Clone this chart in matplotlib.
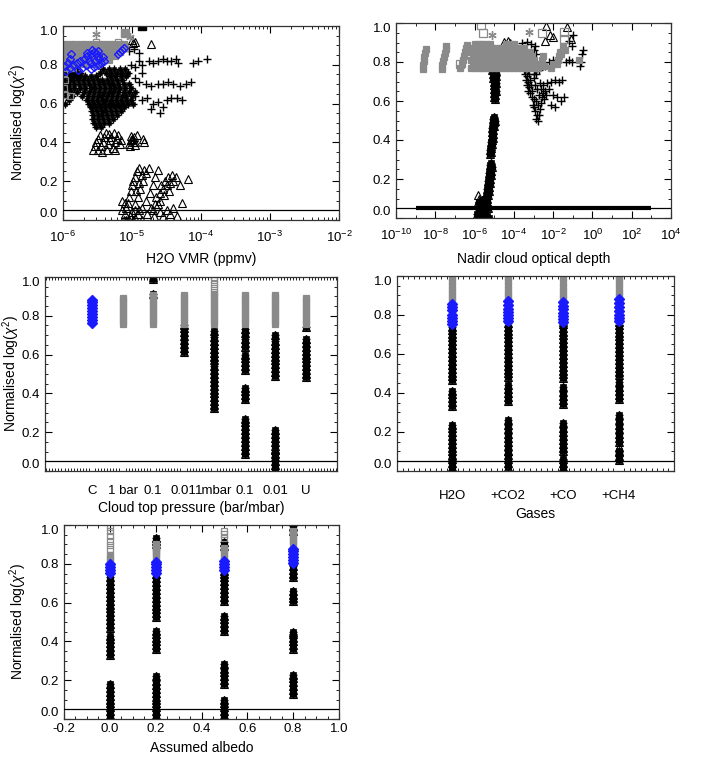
import numpy as np
import matplotlib
matplotlib.use('Agg')
import matplotlib.pyplot as plt
from matplotlib.ticker import MultipleLocator, FixedLocator, NullFormatter, LogFormatterMathtext, LogLocator

plt.rcParams['font.family'] = ['Liberation Sans', 'DejaVu Sans']
plt.rcParams['mathtext.fontset'] = 'custom'
plt.rcParams['mathtext.rm'] = 'Liberation Sans'
plt.rcParams['mathtext.it'] = 'Liberation Sans:italic'
plt.rcParams['font.size'] = 10

GREY = '#8a8a8a'
BLUE = '#1a1aff'
THRESH = 0.05
YLAB = r'Normalised log($\chi^2$)'

# ---------------- panel 1 : H2O VMR (log10 ppmv) ----------------
p1_grey_y = [0.905, 0.885, 0.865, 0.845, 0.825, 0.805, 0.785]
p1_grey_lx = [
    [-5.98, -5.9, -5.82, -5.74, -5.66, -5.58, -5.5, -5.42, -5.34, -5.26, -5.18, -5.12],
    [-5.96, -5.88, -5.8, -5.72, -5.64, -5.56, -5.48, -5.4, -5.32, -5.24, -5.16, -5.1],
    [-5.98, -5.9, -5.82, -5.74, -5.66, -5.58, -5.5, -5.42, -5.34, -5.26, -5.18],
    [-5.96, -5.88, -5.8, -5.72, -5.64, -5.56, -5.48, -5.4, -5.32, -5.24],
    [-5.98, -5.9, -5.82, -5.74, -5.66, -5.58, -5.5, -5.42, -5.34],
    [-5.96, -5.88, -5.8, -5.72, -5.64, -5.56, -5.48],
    [-5.98, -5.92, -5.86],
]
p1_grey_x_extra = [-5.98, -5.97, -5.98, -5.97, -5.9, -5.52, -5.2]
p1_grey_y_extra = [0.76, 0.72, 0.68, 0.645, 0.64, 0.915, 0.915]

p1_blue_lx = [-5.95, -5.9, -5.85, -5.8, -5.75, -5.7, -5.65, -5.6, -5.55, -5.5,
              -5.78, -5.72, -5.66, -5.6, -5.54, -5.48, -5.42,
              -5.97, -5.93, -5.9, -5.6, -5.55, -5.5, -5.45, -5.4,
              -5.65, -5.58, -5.52, -5.5, -5.62, -5.88,
              -5.2, -5.17, -5.14, -5.12]
p1_blue_y = [0.77, 0.785, 0.80, 0.81, 0.82, 0.83, 0.845, 0.855, 0.865, 0.87,
             0.775, 0.785, 0.80, 0.81, 0.82, 0.83, 0.84,
             0.795, 0.81, 0.83, 0.78, 0.79, 0.80, 0.81, 0.82,
             0.86, 0.875, 0.86, 0.845, 0.82, 0.855,
             0.855, 0.865, 0.875, 0.885]

p1_mass_y = [0.78, 0.76, 0.74, 0.72, 0.70, 0.68, 0.66, 0.64, 0.62, 0.60,
             0.58, 0.56, 0.54, 0.52, 0.50, 0.48]
p1_mass_lx = [
    [-5.99, -5.93, -5.87, -5.81, -5.42, -5.34, -5.26, -5.18, -5.1],
    [-5.99, -5.93, -5.87, -5.81, -5.75, -5.47, -5.38, -5.3, -5.22, -5.14, -5.06],
    [-5.99, -5.93, -5.87, -5.81, -5.75, -5.68, -5.6, -5.52, -5.32, -5.24, -5.16, -5.08],
    [-5.98, -5.92, -5.85, -5.78, -5.71, -5.64, -5.57, -5.5, -5.43, -5.36, -5.29, -5.22, -5.15],
    [-5.97, -5.91, -5.84, -5.77, -5.7, -5.62, -5.55, -5.48, -5.41, -5.34, -5.27, -5.2, -5.12, -5.04],
    [-5.98, -5.91, -5.84, -5.76, -5.68, -5.6, -5.53, -5.46, -5.39, -5.32, -5.25, -5.18, -5.1, -5.02],
    [-5.96, -5.88, -5.8, -5.7, -5.62, -5.55, -5.48, -5.41, -5.34, -5.27, -5.2, -5.12, -5.04, -4.96],
    [-5.95, -5.87, -5.72, -5.64, -5.57, -5.5, -5.43, -5.36, -5.29, -5.22, -5.15, -5.08, -5.0],
    [-5.92, -5.65, -5.58, -5.51, -5.44, -5.37, -5.3, -5.23, -5.16, -5.09, -5.02],
    [-5.97, -5.62, -5.55, -5.48, -5.41, -5.34, -5.27, -5.2, -5.13, -5.06, -4.98],
    [-5.6, -5.53, -5.46, -5.39, -5.32, -5.25, -5.18, -5.11],
    [-5.58, -5.51, -5.44, -5.37, -5.3, -5.23, -5.16],
    [-5.57, -5.5, -5.43, -5.36, -5.29, -5.22],
    [-5.56, -5.49, -5.42, -5.35, -5.28],
    [-5.55, -5.48, -5.41, -5.34],
    [-5.52, -5.45],
]
p1_plus_lx = [-5.02, -4.95, -4.9, -4.85, -4.75, -4.7, -4.62, -4.55, -4.5, -4.43, -4.36,
              -4.33, -4.12, -4.05, -3.92, -4.85, -4.9, -4.95, -4.97, -5.05,
              -4.9, -4.8, -4.72, -4.63, -4.55, -4.48, -4.4, -4.3, -4.22, -4.14,
              -4.95, -4.85, -4.78, -4.7, -4.62, -4.55, -4.5, -4.43, -4.35, -4.28, -4.6, -4.72]
p1_plus_y = [0.80, 0.79, 0.82, 0.80, 0.82, 0.81, 0.82, 0.83, 0.82, 0.82, 0.83,
             0.81, 0.81, 0.82, 0.83, 0.76, 0.86, 0.73, 0.88, 0.87,
             0.71, 0.70, 0.69, 0.70, 0.70, 0.71, 0.70, 0.69, 0.70, 0.71,
             0.64, 0.62, 0.63, 0.60, 0.61, 0.58, 0.62, 0.63, 0.63, 0.62, 0.55, 0.57]
p1_tri_lx = [-5.56, -5.54, -5.52, -5.5, -5.45, -5.42, -5.4, -5.38, -5.35, -5.32, -5.3,
             -5.28, -5.25, -5.22, -5.2, -5.18, -5.05, -5.02, -5.0, -4.97, -4.95, -4.93,
             -4.84, -4.83,
             -5.5, -5.47, -5.44, -5.36, -5.33, -5.26, -5.24, -5.16, -5.03, -4.99, -4.96, -5.01,
             -5.12, -5.1, -5.08, -5.06, -5.04, -5.02, -5.0, -4.98, -4.96, -4.93, -4.9,
             -5.05, -5.0, -4.96, -4.92, -4.88, -4.84, -4.8, -4.76,
             -4.98, -4.92, -4.86, -4.8, -4.74, -4.7, -4.66, -4.62,
             -4.85, -4.78, -4.7, -4.62, -4.55, -4.5, -4.45, -4.4, -4.35,
             -4.65, -4.6, -4.55, -4.5, -4.45, -4.4, -4.36, -4.6, -4.53, -4.46,
             -5.08, -5.03, -4.95, -4.9, -4.94, -4.9, -4.86, -4.82, -4.72, -4.68, -4.6,
             -4.66, -4.58, -4.52, -4.48, -4.42, -4.95, -5.1,
             -4.3, -4.19, -4.28, -5.15, -5.14,
             -5.0, -4.98, -4.95, -4.72]
p1_tri_y = [0.36, 0.38, 0.40, 0.42, 0.38, 0.40, 0.43, 0.45, 0.39, 0.41, 0.43,
            0.37, 0.40, 0.42, 0.44, 0.39, 0.39, 0.41, 0.42, 0.43, 0.40, 0.44,
            0.42, 0.40,
            0.36, 0.44, 0.35, 0.36, 0.445, 0.45, 0.36, 0.41, 0.38, 0.40, 0.385, 0.435,
            0.0, 0.03, 0.06, 0.09, 0.12, 0.15, 0.18, 0.20, 0.22, 0.25, 0.27,
            0.0, 0.04, 0.08, 0.12, 0.16, 0.20, 0.24, 0.27,
            0.0, 0.03, 0.06, 0.10, 0.14, 0.18, 0.22, 0.26,
            0.0, 0.03, 0.05, 0.08, 0.02, 0.05, 0.03, 0.06, 0.02,
            0.12, 0.14, 0.16, 0.18, 0.19, 0.20, 0.22, 0.10, 0.13, 0.15,
            0.0, 0.02, 0.01, 0.05, 0.15, 0.19, 0.23, 0.26, 0.06, 0.02, 0.04,
            0.08, 0.18, 0.20, 0.22, 0.23, 0.05, 0.09,
            0.18, 0.21, 0.09, 0.05, 0.10,
            0.93, 0.91, 0.92, 0.905]

# ---------------- panel 2 : nadir cloud optical depth (log10) ----------------
p2_col_lx = [-8.65, -8.62, -8.58, -8.55, -8.5, -8.47,
             -7.68, -7.64, -7.6, -7.56, -7.52, -7.48, -7.45,
             -6.72, -6.66, -6.6, -6.55, -6.5, -6.45, -6.4]
p2_col_y = [0.765, 0.785, 0.805, 0.825, 0.845, 0.865,
            0.765, 0.785, 0.805, 0.825, 0.845, 0.865, 0.88,
            0.77, 0.79, 0.81, 0.83, 0.85, 0.87, 0.885]
p2_grey_y = [0.77, 0.79, 0.81, 0.83, 0.85, 0.87, 0.89]
p2_grey_lx = [
    [-6.2, -6.0, -5.8, -5.6, -5.4, -5.2, -5.0, -4.8, -4.6, -4.4, -4.2, -4.0, -3.8, -3.6, -3.4, -3.2, -3.0, -2.8],
    [-6.1, -5.9, -5.7, -5.5, -5.3, -5.1, -4.9, -4.7, -4.5, -4.3, -4.1, -3.9, -3.7, -3.5, -3.3, -3.1, -2.9],
    [-6.2, -6.0, -5.8, -5.6, -5.4, -5.2, -5.0, -4.8, -4.6, -4.4, -4.2, -4.0, -3.8, -3.6, -3.4, -3.2, -3.0],
    [-6.1, -5.9, -5.7, -5.5, -5.3, -5.1, -4.9, -4.7, -4.5, -4.3, -4.1, -3.9, -3.7, -3.5, -3.3, -3.1],
    [-6.2, -6.0, -5.8, -5.6, -5.4, -5.2, -5.0, -4.8, -4.6, -4.4, -4.2, -4.0, -3.8, -3.6, -3.4, -3.2],
    [-6.1, -5.9, -5.7, -5.5, -5.3, -5.1, -4.9, -4.7, -4.5, -4.3, -4.1, -3.9, -3.7, -3.5],
    [-6.0, -5.8, -5.6, -5.4, -5.2, -4.4, -4.2, -4.0],
]
p2_grey_x_extra = [-2.75, -2.65, -2.55, -2.45, -2.5, -1.8, -1.75, -1.7, -1.65, -1.6,
                   -2.1, -2.0, -1.5, -1.4, -0.7]
p2_grey_y_extra = [0.77, 0.79, 0.81, 0.78, 0.83, 0.79, 0.81, 0.83, 0.85, 0.84,
                   0.77, 0.79, 0.88, 0.86, 0.81]
p2_grey_out_lx = [-5.56, -5.65, -2.58, -1.47, -1.47, -6.73]
p2_grey_out_y = [0.95, 0.99, 0.95, 0.955, 0.92, 0.79]
p2_star_lx = [-5.12, -3.21]
p2_star_y = [0.94, 0.955]

p2_colblk_lx = [-5.1, -5.0, -4.92, -5.08, -4.98, -4.9, -5.05, -4.95, -5.0, -4.92, -5.03, -4.95,
                -5.0, -4.93, -5.02, -4.96, -5.0, -4.95,
                -5.0, -5.05, -4.98, -5.02, -5.07, -5.0, -5.1, -5.05, -5.12, -5.08, -5.1, -5.05,
                -5.12, -5.15, -5.1, -5.18, -5.15, -5.2, -5.15, -5.2,
                -5.15, -5.2, -5.1, -5.22, -5.15, -5.25, -5.18, -5.28, -5.2, -5.3, -5.22, -5.32,
                -5.25, -5.35, -5.28, -5.38, -5.3, -5.4, -5.35,
                -5.85, -5.75, -5.65, -5.55, -5.45, -5.35, -5.25, -5.8, -5.7, -5.6, -5.5, -5.4,
                -5.3, -5.75, -5.6, -5.45, -5.9, -5.35]
p2_colblk_y = [0.76, 0.76, 0.755, 0.74, 0.74, 0.73, 0.72, 0.71, 0.70, 0.69, 0.68, 0.67,
               0.66, 0.65, 0.64, 0.63, 0.62, 0.61,
               0.52, 0.51, 0.50, 0.49, 0.48, 0.47, 0.46, 0.45, 0.44, 0.43, 0.42, 0.41,
               0.40, 0.39, 0.38, 0.37, 0.36, 0.35, 0.34, 0.33,
               0.28, 0.27, 0.26, 0.25, 0.24, 0.23, 0.22, 0.21, 0.20, 0.19, 0.18, 0.17,
               0.16, 0.15, 0.14, 0.13, 0.12, 0.11, 0.10,
               0.0, 0.01, 0.02, 0.0, 0.03, 0.01, 0.0, 0.04, 0.06, 0.05, 0.07, 0.06,
               0.05, 0.08, 0.09, 0.10, 0.02, 0.08]
p2_plus_lx = [-3.5, -3.4, -3.3, -3.45, -3.35, -3.25, -3.4, -3.3, -3.2, -3.35, -3.25, -3.15,
              -3.3, -3.2, -3.1, -3.0, -2.9, -2.8, -2.7, -2.95, -2.85,
              -3.1, -3.0, -3.05, -2.95, -2.85, -2.9, -2.8, -2.85, -2.75, -2.7, -2.65, -2.75,
              -2.6, -2.55, -2.7, -2.5, -2.6, -2.4, -2.45, -2.35, -2.8, -2.9, -2.65, -2.5,
              -2.3, -2.1, -1.9, -1.7, -1.55, -2.2, -2.0, -1.8, -1.6, -1.45, -2.1, -1.9,
              -2.4, -2.2, -2.0, -1.35, -1.2, -1.05, -0.65, -0.6, -0.5, -0.55, -1.2, -1.05,
              -3.6, -3.35, -3.15, -0.98, -3.0, -2.9, -2.85]
p2_plus_y = [0.76, 0.77, 0.76, 0.74, 0.73, 0.74, 0.71, 0.70, 0.71, 0.68, 0.67, 0.68,
             0.65, 0.64, 0.65, 0.74, 0.76, 0.77, 0.76, 0.72, 0.74,
             0.62, 0.61, 0.58, 0.57, 0.60, 0.55, 0.53, 0.51, 0.50, 0.53, 0.56, 0.58,
             0.59, 0.62, 0.63, 0.64, 0.66, 0.65, 0.61, 0.63, 0.66, 0.68, 0.69, 0.68,
             0.69, 0.70, 0.71, 0.70, 0.71, 0.66, 0.63, 0.62, 0.60, 0.62, 0.58, 0.57,
             0.78, 0.80, 0.81, 0.80, 0.81, 0.80, 0.78, 0.80, 0.86, 0.84, 0.91, 0.88,
             0.90, 0.905, 0.89, 0.94, 0.86, 0.88, 0.84]
p2_tri_lx = [-4.5, -4.3, -4.2, -2.4, -2.15, -2.0, -5.85, -5.75, -5.9, -2.35, -1.27, -1.1]
p2_tri_y = [0.905, 0.91, 0.90, 0.91, 0.94, 0.93, 0.12, 0.10, 0.07, 0.985, 0.98, 0.92]

# ---------------- panel 3 : cloud top pressure ----------------
cloud_labels = ['C', '1 bar', '0.1', '0.01', '1mbar', '0.1', '0.01', 'U']
cloud_blue_y = [[0.765, 0.78, 0.795, 0.81, 0.825, 0.84, 0.855, 0.87, 0.88],
                [], [], [], [], [], [], []]
cloud_grey_y = [
    [],
    [0.76, 0.775, 0.79, 0.805, 0.82, 0.835, 0.85, 0.865, 0.88, 0.89],
    [0.76, 0.775, 0.79, 0.805, 0.82, 0.835, 0.85, 0.865, 0.88, 0.895, 0.905],
    [0.76, 0.775, 0.79, 0.805, 0.82, 0.835, 0.85, 0.865, 0.88, 0.895, 0.905],
    [0.76, 0.775, 0.79, 0.805, 0.82, 0.835, 0.85, 0.865, 0.88, 0.895, 0.91],
    [0.76, 0.775, 0.79, 0.805, 0.82, 0.835, 0.85, 0.865, 0.88, 0.895, 0.905],
    [0.76, 0.775, 0.79, 0.805, 0.82, 0.835, 0.85, 0.865, 0.88, 0.895, 0.905],
    [0.76, 0.775, 0.79, 0.805, 0.82, 0.835, 0.85, 0.865, 0.88, 0.89],
]
cloud_open_y = [[], [], [], [], [0.925, 0.945, 0.965, 0.985, 1.0], [], [], []]
cloud_black_y = [
    [],
    [],
    [0.91, 0.99, 1.0],
    [0.615, 0.635, 0.655, 0.675, 0.695, 0.715, 0.735, 0.755],
    [0.72, 0.69, 0.67, 0.65, 0.63, 0.61, 0.59, 0.57,
     0.54, 0.52, 0.50, 0.48, 0.46, 0.44, 0.42, 0.40, 0.38, 0.36, 0.34, 0.325],
    [0.73, 0.71, 0.68, 0.66, 0.64, 0.60, 0.58, 0.56, 0.54, 0.52,
     0.43, 0.41, 0.39, 0.37,
     0.27, 0.25, 0.23, 0.21, 0.19, 0.17, 0.15, 0.13, 0.11, 0.09],
    [0.70, 0.67, 0.65, 0.63, 0.61, 0.59, 0.57, 0.55, 0.53, 0.51, 0.49,
     0.21, 0.19, 0.17, 0.15, 0.13,
     0.09, 0.07, 0.05, 0.03, 0.01],
    [0.74, 0.68, 0.66, 0.64, 0.62, 0.60, 0.58, 0.56, 0.54, 0.52, 0.50, 0.485],
]
cloud_tri_y = [[], [], [], [], [], [], [0.11, 0.115], []]

# ---------------- panel 4 : gases ----------------
gas_labels = ['H2O', '+CO2', '+CO', '+CH4']
gas_grey_y = [
    [0.77, 0.79, 0.81, 0.83, 0.85, 0.87, 0.89, 0.91, 0.93, 0.95, 0.97, 0.995],
    [0.77, 0.79, 0.81, 0.83, 0.85, 0.875, 0.895, 0.915, 0.935, 0.955, 0.975, 0.995],
    [0.77, 0.79, 0.81, 0.83, 0.85, 0.865, 0.885, 0.905, 0.925, 0.945, 0.97, 0.995],
    [0.77, 0.79, 0.81, 0.83, 0.85, 0.88, 0.90, 0.92, 0.94, 0.96, 0.98, 0.995],
]
gas_blue_y = [
    [0.825, 0.84, 0.855, 0.755, 0.77, 0.785, 0.80],
    [0.83, 0.85, 0.87, 0.77, 0.785, 0.80, 0.815],
    [0.83, 0.845, 0.865, 0.765, 0.78, 0.795, 0.81],
    [0.84, 0.86, 0.88, 0.77, 0.785, 0.80, 0.82],
]
gas_black_y = [
    [0.0, 0.02, 0.04, 0.06, 0.08, 0.10, 0.12, 0.14, 0.16, 0.18, 0.20, 0.22, 0.235,
     0.335, 0.355, 0.375, 0.395, 0.41,
     0.465, 0.485, 0.505, 0.525, 0.545, 0.565, 0.585, 0.605, 0.625, 0.645, 0.665,
     0.685, 0.705, 0.725, 0.74],
    [0.02, 0.04, 0.06, 0.08, 0.10, 0.13, 0.15, 0.17, 0.19, 0.215, 0.235, 0.26,
     0.36, 0.38, 0.40, 0.42, 0.44,
     0.48, 0.50, 0.52, 0.54, 0.56, 0.58, 0.60, 0.62, 0.64, 0.66, 0.68, 0.70, 0.72,
     0.74, 0.76],
    [0.0, 0.02, 0.04, 0.06, 0.10, 0.12, 0.14, 0.16, 0.18, 0.20, 0.22, 0.245,
     0.345, 0.365, 0.385, 0.405, 0.43,
     0.475, 0.495, 0.515, 0.535, 0.555, 0.575, 0.595, 0.615, 0.635, 0.655, 0.675,
     0.695, 0.715, 0.735, 0.755, 0.765],
    [0.055, 0.075, 0.095, 0.105, 0.15, 0.17, 0.19, 0.215, 0.235, 0.26, 0.285,
     0.37, 0.39, 0.41, 0.43, 0.455,
     0.49, 0.51, 0.53, 0.55, 0.57, 0.59, 0.61, 0.63, 0.65, 0.67, 0.69, 0.71, 0.73,
     0.75, 0.765],
]
gas_tri_y = [[0.07], [0.105], [0.07], [0.125]]

# ---------------- panel 5 : assumed albedo ----------------
albedo = [0.0, 0.2, 0.5, 0.8]
alb_open_y = [[0.875, 0.895, 0.92, 0.945, 0.97, 0.99], [0.86, 0.88], [0.935, 0.955, 0.97], []]
alb_grey_y = [
    [0.80, 0.815, 0.83, 0.845],
    [0.81, 0.825, 0.84, 0.855, 0.87, 0.885, 0.90],
    [0.815, 0.83, 0.845, 0.86, 0.875, 0.88],
    [0.90, 0.915, 0.93, 0.945, 0.96, 0.97],
]
alb_blue_y = [
    [0.755, 0.77, 0.785, 0.80],
    [0.755, 0.77, 0.785, 0.80, 0.81],
    [0.77, 0.785, 0.80, 0.815],
    [0.805, 0.82, 0.835, 0.85, 0.865, 0.875],
]
alb_black_y = [
    [0.0, 0.02, 0.04, 0.06, 0.08, 0.10, 0.12, 0.14, 0.16, 0.18,
     0.33, 0.35, 0.37, 0.39, 0.41, 0.43,
     0.47, 0.49, 0.51, 0.53, 0.55, 0.57, 0.59, 0.61, 0.63, 0.65, 0.67, 0.69, 0.71, 0.73],
    [0.0, 0.02, 0.04, 0.06, 0.08, 0.115, 0.135, 0.155, 0.175, 0.195, 0.22,
     0.36, 0.38, 0.40, 0.42, 0.44, 0.455,
     0.525, 0.545, 0.565, 0.585, 0.605, 0.625, 0.645, 0.665, 0.685, 0.705, 0.725, 0.75,
     0.90, 0.92, 0.935],
    [0.0, 0.02, 0.04, 0.06, 0.08, 0.10, 0.18, 0.20, 0.22, 0.24, 0.26, 0.285,
     0.455, 0.475, 0.495, 0.515, 0.53,
     0.61, 0.63, 0.65, 0.67, 0.69, 0.71, 0.73, 0.75, 0.765, 0.89, 0.91],
    [0.13, 0.15, 0.17, 0.19, 0.21, 0.225, 0.36, 0.38, 0.40, 0.42, 0.44, 0.45,
     0.61, 0.625, 0.64, 0.66, 0.73, 0.75, 0.77, 0.79, 0.815, 0.97, 0.995],
]
alb_tri_y = [[], [0.10], [], []]


# ---------------- drawing helpers ----------------
def grey(ax, x, y, ms=4.5, filled=True):
    ax.plot(x, y, ls='none', marker='s', ms=ms, mfc=GREY if filled else 'none',
            mec=GREY, mew=0.9)


def blue(ax, x, y, filled=False, ms=4):
    ax.plot(x, y, ls='none', marker='D', ms=ms, mfc=BLUE if filled else 'none',
            mec=BLUE, mew=1.0)


def plus(ax, x, y):
    ax.plot(x, y, ls='none', marker='+', ms=6, mec='k', mew=1.0)


def tri(ax, x, y):
    ax.plot(x, y, ls='none', marker='^', ms=5.5, mfc='none', mec='k', mew=0.8)


def blob(ax, x, y):
    # solid core under the stacked black symbols
    ax.plot(x, y, ls='none', marker='s', ms=4.5, mfc='k', mec='k', mew=0.5)
    plus(ax, x, y)
    tri(ax, x, y)


def rows(xs, ys):
    xx, yy = [], []
    for row, y in zip(xs, ys):
        xx += list(row)
        yy += [y] * len(row)
    return np.array(xx), np.array(yy)


def style(ax, ylabel=False, lab_x=None):
    ax.set_ylim(0, 1.0)
    ax.set_yticks([0.0, 0.2, 0.4, 0.6, 0.8, 1.0])
    ax.set_yticklabels(['0.0', '0.2', '0.4', '0.6', '0.8', '1.0'])
    ax.yaxis.set_minor_locator(MultipleLocator(0.05))
    ax.tick_params(which='both', direction='in', top=True, right=True, labelsize=9.5)
    ax.tick_params(which='major', length=5, width=0.8)
    ax.tick_params(which='minor', length=2.5, width=0.6)
    for s in ax.spines.values():
        s.set_linewidth(0.9)
        s.set_color('#333333')
    ticks = ax.yaxis.get_major_ticks()
    ticks[0].label1.set_va('bottom')
    ticks[-1].label1.set_va('top')
    ax.axhline(THRESH, color='k', lw=0.9, zorder=5)
    if ylabel:
        p = ax.get_position()
        ax.set_ylabel(YLAB, fontsize=10)
        ax.yaxis.label.set_va('center')
        ax.yaxis.set_label_coords(lab_x / 706, (p.y0 + p.y1) / 2, transform=fig.transFigure)


def xlab(ax, text, ypix):
    ax.set_xlabel(text, fontsize=10)
    ax.xaxis.label.set_va('center')
    p = ax.get_position()
    ax.xaxis.set_label_coords((p.x0 + p.x1) / 2, 1 - ypix / 784, transform=fig.transFigure)


fig = plt.figure(figsize=(7.06, 7.84), dpi=100)


def add_ax(l, t, r, b):
    return fig.add_axes([l / 706, 1 - b / 784, (r - l) / 706, (b - t) / 784])


ax1 = add_ax(63, 26, 339, 220)
ax2 = add_ax(396, 23, 671, 218)
ax3 = add_ax(45, 277, 337, 471)
ax4 = add_ax(397, 276, 674, 471)
ax5 = add_ax(64, 525, 339, 719)

# panel 1
mx, my = rows(p1_mass_lx, p1_mass_y)
ax1.plot(10 ** mx, my, ls='none', marker='s', ms=3.2, mfc='k', mec='k', mew=0.4)
plus(ax1, 10 ** mx, my)
plus(ax1, 10 ** np.array(p1_plus_lx), p1_plus_y)
tri(ax1, 10 ** np.array(p1_tri_lx), p1_tri_y)
gx, gy = rows(p1_grey_lx, p1_grey_y)
grey(ax1, 10 ** gx, gy)
grey(ax1, 10 ** np.array(p1_grey_x_extra), p1_grey_y_extra, filled=False)
blue(ax1, 10 ** np.array(p1_blue_lx), p1_blue_y)
ax1.plot([10 ** -5.52, 10 ** -5.03], [0.96, 0.945], ls='none', marker=(6, 2, 0), ms=6, mec=GREY, mew=1)
ax1.plot([10 ** -5.1], [0.965], ls='none', marker='s', ms=6, mfc=GREY, mec=GREY)
ax1.plot([10 ** -4.86], [1.0], ls='none', marker='s', ms=6, mfc='k', mec='k')
ax1.set_xscale('log')
ax1.set_xlim(1e-6, 1e-2)
ax1.xaxis.set_major_locator(FixedLocator([1e-6, 1e-5, 1e-4, 1e-3, 1e-2]))
ax1.xaxis.set_major_formatter(LogFormatterMathtext())
ax1.xaxis.set_minor_locator(LogLocator(base=10, subs=(2, 3, 4, 5, 6, 7, 8, 9)))
ax1.xaxis.set_minor_formatter(NullFormatter())
style(ax1, True, 18)
ax1.tick_params(axis='x', which='major', pad=7)
xlab(ax1, 'H2O VMR (ppmv)', 259)

# panel 2
blob(ax2, 10 ** np.array(p2_colblk_lx), p2_colblk_y)
plus(ax2, 10 ** np.array(p2_plus_lx), p2_plus_y)
tri(ax2, 10 ** np.array(p2_tri_lx), p2_tri_y)
gx, gy = rows(p2_grey_lx, p2_grey_y)
grey(ax2, 10 ** gx, gy)
grey(ax2, 10 ** np.array(p2_col_lx), p2_col_y)
grey(ax2, 10 ** np.array(p2_grey_x_extra), p2_grey_y_extra)
grey(ax2, 10 ** np.array(p2_grey_out_lx), p2_grey_out_y, ms=5.5, filled=False)
ax2.plot(10 ** np.array(p2_star_lx), p2_star_y, ls='none', marker=(6, 2, 0), ms=6, mec=GREY, mew=1)
ax2.set_xscale('log')
ax2.set_xlim(1e-10, 1e4)
ax2.plot([1e-9, 1e3], [THRESH, THRESH], color='k', lw=3, solid_capstyle='butt', zorder=6)
ax2.xaxis.set_major_locator(FixedLocator([1e-10, 1e-8, 1e-6, 1e-4, 1e-2, 1e0, 1e2, 1e4]))
ax2.xaxis.set_major_formatter(LogFormatterMathtext())
ax2.xaxis.set_minor_locator(FixedLocator([1e-9, 1e-7, 1e-5, 1e-3, 1e-1, 1e1, 1e3]))
ax2.xaxis.set_minor_formatter(NullFormatter())
style(ax2)
ax2.tick_params(axis='x', which='major', pad=7)
xlab(ax2, 'Nadir cloud optical depth', 259)

# panel 3
for i in range(len(cloud_labels)):
    yb = cloud_black_y[i]
    blob(ax3, np.full(len(yb), i), yb)
    tri(ax3, np.full(len(cloud_tri_y[i]), i), cloud_tri_y[i])
    grey(ax3, np.full(len(cloud_grey_y[i]), i), cloud_grey_y[i], ms=5)
    grey(ax3, np.full(len(cloud_open_y[i]), i), cloud_open_y[i], filled=False)
    blue(ax3, np.full(len(cloud_blue_y[i]), i), cloud_blue_y[i], filled=True, ms=5.5)
ax3.set_xlim(-1.54, 8.03)
ax3.set_xticks(range(len(cloud_labels)))
ax3.set_xticklabels(cloud_labels)
ax3.xaxis.set_minor_locator(MultipleLocator(0.1))
style(ax3, True, 11)
ax3.tick_params(axis='x', which='major', length=0, pad=10)
xlab(ax3, 'Cloud top pressure (bar/mbar)', 508)

# panel 4
for i in range(len(gas_labels)):
    yb = gas_black_y[i]
    blob(ax4, np.full(len(yb), i + 1), yb)
    tri(ax4, np.full(len(gas_tri_y[i]), i + 1), gas_tri_y[i])
    grey(ax4, np.full(len(gas_grey_y[i]), i + 1), gas_grey_y[i], ms=5)
    blue(ax4, np.full(len(gas_blue_y[i]), i + 1), gas_blue_y[i], filled=True, ms=5.5)
ax4.set_xlim(0, 5)
ax4.set_xticks(range(1, len(gas_labels) + 1))
ax4.set_xticklabels(gas_labels)
ax4.xaxis.set_minor_locator(MultipleLocator(0.1))
style(ax4)
ax4.tick_params(axis='x', which='major', length=0, pad=14)
xlab(ax4, 'Gases', 514)

# panel 5
for i, a in enumerate(albedo):
    yb = alb_black_y[i]
    blob(ax5, np.full(len(yb), a), yb)
    tri(ax5, np.full(len(alb_tri_y[i]), a), alb_tri_y[i])
    grey(ax5, np.full(len(alb_open_y[i]), a), alb_open_y[i], filled=False)
    grey(ax5, np.full(len(alb_grey_y[i]), a), alb_grey_y[i], ms=5)
    blue(ax5, np.full(len(alb_blue_y[i]), a), alb_blue_y[i], filled=True, ms=5.5)
ax5.set_xlim(-0.2, 1.0)
ax5.set_xticks([-0.2, 0.0, 0.2, 0.4, 0.6, 0.8, 1.0])
ax5.set_xticklabels(['-0.2', '0.0', '0.2', '0.4', '0.6', '0.8', '1.0'])
ax5.xaxis.set_minor_locator(MultipleLocator(0.05))
style(ax5, True, 18)
ax5.tick_params(axis='x', which='major', pad=3)
xlab(ax5, 'Assumed albedo', 748)

fig.savefig('out.png', dpi=100)
